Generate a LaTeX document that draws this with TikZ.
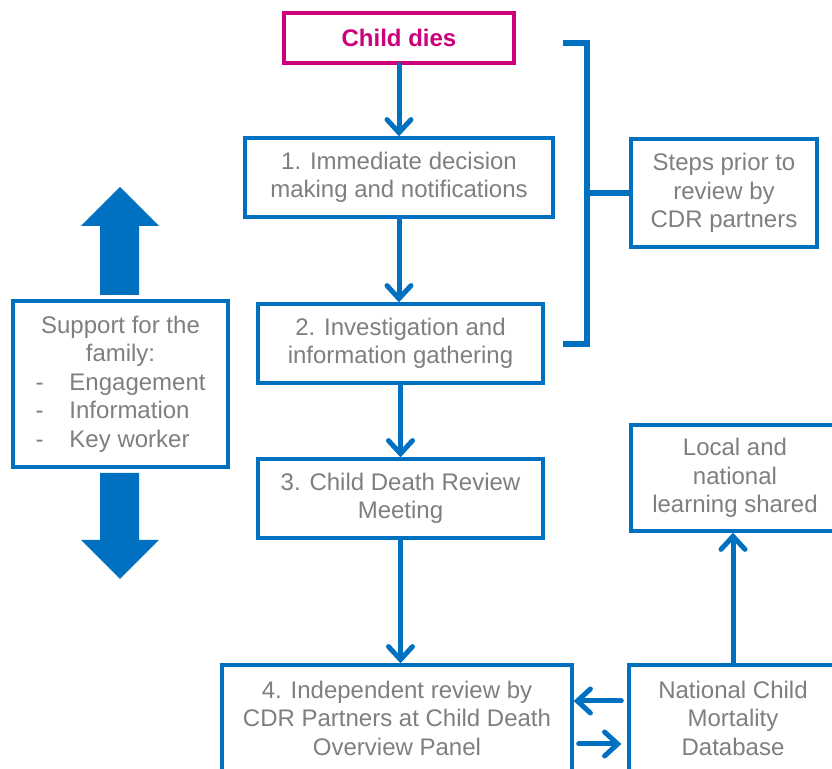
\documentclass[tikz,border=0pt]{standalone}
\usepackage{fontspec}
\setmainfont{Liberation Sans}
\usetikzlibrary{arrows.meta}
\definecolor{cdrblue}{RGB}{0,112,192}
\definecolor{cdrgrey}{RGB}{127,127,127}
\definecolor{cdrpink}{RGB}{204,0,122}

\begin{document}
\begin{tikzpicture}[x=0.5pt, y=-0.5pt,
        boxstyle/.style={draw=cdrblue, line width=1.7pt, fill=white, align=center, text=cdrgrey,
            font=\fontsize{12}{14.25}\selectfont, inner sep=0pt},
        flowstyle/.style={draw=cdrblue, line width=2.5pt, line cap=round,
            -{Straight Barb[length=6.5pt, width=12pt, line cap=round]}},
        bracketstyle/.style={draw=cdrblue, line width=2.6pt},
        bigarrow/.style={fill=cdrblue}]
    \useasboundingbox (0,0) rectangle (832,769);
    \clip (0,0) rectangle (832,769);

    % main steps
    \node[boxstyle, draw=cdrpink, text=cdrpink, font=\bfseries\fontsize{12}{14.25}\selectfont,
        minimum width=115pt, minimum height=25pt] (dies) at (399,38) {Child dies};
    \node[boxstyle, minimum width=154pt, minimum height=39.5pt] (s1) at (399,177.5)
        {1. Immediate decision\\making and notifications};
    \node[boxstyle, minimum width=142.5pt, minimum height=39.5pt] (s2) at (400.5,343.5)
        {2. Investigation and\\information gathering};
    \node[boxstyle, minimum width=142.5pt, minimum height=39.5pt] (s3) at (400.5,498.5)
        {3. Child Death Review\\Meeting};
    \node[boxstyle, minimum width=175pt, minimum height=53pt] (s4) at (397,718)
        {4. Independent review by\\CDR Partners at Child Death\\Overview Panel};

    % right hand side
    \node[boxstyle, minimum width=104pt, minimum height=53pt] (ncmd) at (733,718)
        {National Child\\Mortality\\Database};
    \node[boxstyle, minimum width=104pt, minimum height=53pt] (local) at (735,478)
        {Local and\\national\\learning shared};
    \node[boxstyle, minimum width=93pt, minimum height=54pt] (steps) at (724,193)
        {Steps prior to\\review by\\CDR partners};

    % family support
    \node[boxstyle, minimum width=107.5pt, minimum height=83pt] (support) at (120.5,384)
        {Support for the\\family:\\
         \makebox[85pt][l]{\makebox[17pt][l]{-}Engagement}\\
         \makebox[85pt][l]{\makebox[17pt][l]{-}Information}\\
         \makebox[85pt][l]{\makebox[17pt][l]{-}Key worker}};
    \fill[bigarrow] (100,295) -- (100,226) -- (81,226) -- (120,187) -- (159,226) -- (139,226) -- (139,295) -- cycle;
    \fill[bigarrow] (100,473) -- (100,540) -- (81,540) -- (120,579) -- (159,540) -- (139,540) -- (139,473) -- cycle;

    % connectors
    \draw[flowstyle] (dies.south) -- (s1.north);
    \draw[flowstyle] (s1.south) -- (s1.south |- s2.north);
    \draw[flowstyle] (s2.south) -- (s2.south |- s3.north);
    \draw[flowstyle] (s3.south) -- (s3.south |- s4.north);
    \draw[flowstyle] ([xshift=-3pt, yshift=8.5pt]ncmd.west) -- ([yshift=8.5pt]s4.east);
    \draw[flowstyle] ([xshift=2.5pt, yshift=-13pt]s4.east) -- ([xshift=-3pt, yshift=-13pt]ncmd.west);
    \draw[flowstyle] (ncmd.north) -- (ncmd.north |- local.south);

    % bracket
    \coordinate (brtop) at (587,43);
    \coordinate (brbot) at (587,344);
    \draw[bracketstyle] ([xshift=-12pt]brtop) -- (brtop) -- (brbot) -- ([xshift=-12pt]brbot);
    \draw[bracketstyle] (brtop |- steps.west) -- (steps.west);
\end{tikzpicture}
\end{document}
